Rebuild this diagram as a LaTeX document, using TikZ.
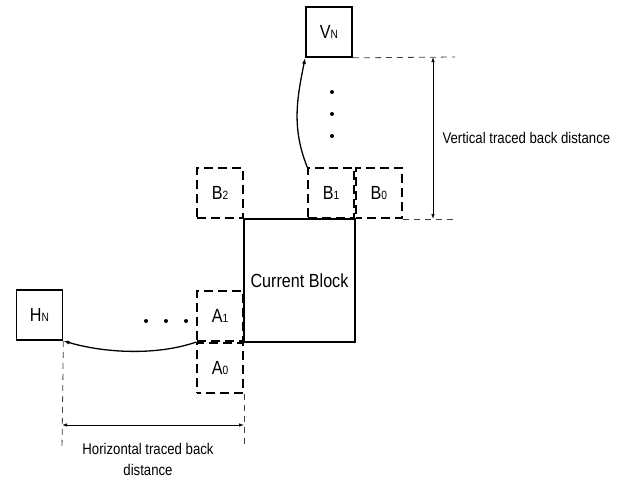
\documentclass[tikz,border=0pt]{standalone}
\usepackage{fontspec}
\setmainfont{Liberation Sans}[FakeStretch=0.85]
\usepackage{tikz}
\usetikzlibrary{arrows.meta,positioning,calc}
\newcommand{\blk}[2]{#1{\fontsize{12}{13}\selectfont #2}}

\begin{document}
\begin{tikzpicture}[x=1pt, y=-1pt, node distance=0pt,
  solidbox/.style={draw, line width=1.7pt, minimum width=46pt, minimum height=50pt, inner sep=0pt, font=\fontsize{19}{21}\selectfont},
  nbrbox/.style={solidbox, dash pattern=on 9pt off 5pt},
  guide/.style={draw=black!75, line width=0.8pt, dash pattern=on 6pt off 5pt},
  measure/.style={line width=0.8pt, {Latex[length=5pt,width=3.5pt]}-{Latex[length=5pt,width=3.5pt]}},
  trace/.style={line width=1.3pt, -{Latex[length=6pt,width=4pt]}},
  dot/.style={circle, fill, inner sep=0pt, minimum size=4pt}]
\useasboundingbox (0,0) rectangle (618,480);

% neighbour blocks (drawn first, current block on top)
\coordinate (cnw) at (244,219);
\coordinate (cne) at (355,219);
\coordinate (csw) at (244,342);
\node[nbrbox, above right=of cne, anchor=south west, dash phase=3pt] (b0) {\blk{B}{0}};
\node[nbrbox, above left=of cne] (b1) {\blk{B}{1}};
\node[nbrbox, above left=of cnw] (b2) {\blk{B}{2}};
\node[nbrbox, above left=of csw] (a1) {\blk{A}{1}};
\node[nbrbox, below left=of csw, dash phase=5pt] (a0) {\blk{A}{0}};

\node[solidbox, minimum width=111pt, minimum height=123pt, fill=white, font=\fontsize{19}{21}\selectfont] (cur) at (299.5,280.5) {Current Block};

\node[solidbox] (vn) at (329,32) {\blk{V}{N}};
\node[solidbox] (hn) at (39.5,315) {\blk{H}{N}};

% dots
\node[dot] (vd1) at (332,92) {};
\node[dot] (vd2) at (332,114) {};
\node[dot] (vd3) at (332,136) {};
\node[dot] (hd1) at (146,321) {};
\node[dot] (hd2) at (166,321) {};
\node[dot] (hd3) at (186,321) {};

% traced back paths
\draw[trace] (b1.north west) .. controls +(-16,-40) and +(-8,40) .. (vn.south west);
\draw[trace] (a1.south west) .. controls +(-40,14) and +(40,12) .. (hn.south east);

% vertical distance
\coordinate (vt) at (433,57);
\coordinate (vb) at (433,219);
\coordinate (ve1) at (455,57);
\coordinate (ve2) at (455,219);
\draw[guide] (vn.south east) -- (ve1);
\draw[guide] (b0.south east) -- (ve2);
\draw[measure] (vt) -- (vb);
\node[anchor=west, font=\fontsize{15.5}{18}\selectfont] (vtxt) at ($(vt)!0.5!(vb)+(6,0)$) {Vertical traced back distance};

% horizontal distance
\coordinate (hl) at (62,425);
\coordinate (hr) at (244,425);
\coordinate (he1) at (62,450);
\coordinate (he2) at (244,445);
\draw[guide] (hn.south east) -- (he1);
\draw[guide] (a0.south east) -- (he2);
\draw[measure] (hl) -- (hr);
\node[align=center, font=\fontsize{15.5}{21}\selectfont] (htxt) at (148,459) {Horizontal traced back\\distance};
\end{tikzpicture}
\end{document}
